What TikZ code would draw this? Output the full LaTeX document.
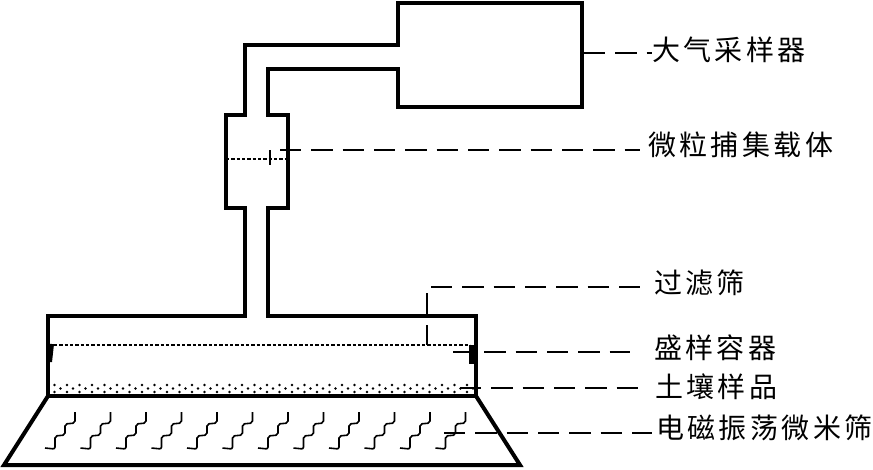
\documentclass[tikz,border=0pt]{standalone}
\usepackage{fontspec}
\newfontfamily\labelfont[LetterSpace=12]{Noto Sans CJK SC}
\usetikzlibrary{positioning}
\tikzset{
  wall/.style={line width=3pt,line join=miter},
  leader/.style={line width=1.4pt,dash pattern=on 16pt off 7.5pt},
  sieve/.style={line width=1.5pt,dash pattern=on 2.6pt off 1.4pt},
  wave/.style={line width=1.2pt,rounded corners=1.5pt},
  tag/.style={font=\labelfont\fontsize{21}{25}\selectfont,anchor=west,inner sep=0pt}
}

\begin{document}
\begin{tikzpicture}[x=0.75pt,y=-0.75pt]
  \useasboundingbox (0,0) rectangle (873,469);
  % sampler, pipe and chamber
  \draw[wall] (398,45) -- (398,3) -- (582,3) -- (582,107) -- (398,107) -- (398,69)
    -- (268,69) -- (268,115) -- (288,115) -- (288,208) -- (268,208) -- (268,316)
    -- (476,316) -- (476,396) -- (48,396) -- (48,316) -- (245,316) -- (245,208)
    -- (226,208) -- (226,115) -- (245,115) -- (245,45) -- cycle;
  \draw[wall] (48,396) -- (4,465) -- (520,465) -- (476,396);
  % carrier and sieve
  \draw[sieve] (226,159) -- (288,159);
  \draw[line width=1.1pt] (270,150) -- (270,165);
  \draw[sieve] (54,345) -- (470,345);
  \draw[line width=3pt] (52,344) -- (50,362);
  \draw[line width=4.5pt] (472,345) -- (472,364);
  % soil sample
  \foreach \x in {0,...,33} {
    \fill (54.5+12.5*\x,385) circle (1.1pt);
    \fill (54.5+12.5*\x,392) circle (1.1pt);
    \fill (60.5+12.5*\x,388.5) circle (1.1pt);
  }
  % waves on the shaker
  \foreach \x in {0,...,11} {
    \draw[wave,xshift=35.5*0.75*\x pt] (45,448) -- (55,449) -- (55,436) -- (65,435)
      -- (65,424) -- (75,423) -- (75,412);
  }
  % labels
  \node[tag] (sampler) at (652,50) {大气采样器};
  \node[tag] (carrier) at (648,145) {微粒捕集载体};
  \node[tag] (filter) at (654,283) {过滤筛};
  \node[tag] (vessel) at (654,348) {盛样容器};
  \node[tag] (soil) at (655,387) {土壤样品};
  \node[tag] (shaker) at (656,428) {电磁振荡微米筛};
  % leaders
  \coordinate (samplerend) at (584,53);
  \coordinate (carrierend) at (280,150);
  \coordinate (filtertop) at (427,293);
  \coordinate (filterfoot) at (427,345);
  \coordinate (filterend) at (431,287);
  \coordinate (vesselend) at (453,352);
  \coordinate (soilend) at (460,388);
  \coordinate (shakerend) at (444,433);
  \draw[leader] (samplerend) -- (samplerend -| sampler.west);
  \draw[leader] (carrierend) -- ([xshift=-6pt]carrierend -| carrier.west);
  \draw[line width=1.4pt,dash pattern=on 18pt off 6pt] (filtertop) -- (filterfoot);
  \draw[leader] (filterend) -- ([xshift=-10.5pt]filterend -| filter.west);
  \draw[leader] (vesselend) -- ([xshift=-18pt]vesselend -| vessel.west);
  \draw[leader] (soilend) -- ([xshift=-10.5pt]soilend -| soil.west);
  \draw[leader] (shakerend) -- ([xshift=-3pt]shakerend -| shaker.west);
\end{tikzpicture}
\end{document}
